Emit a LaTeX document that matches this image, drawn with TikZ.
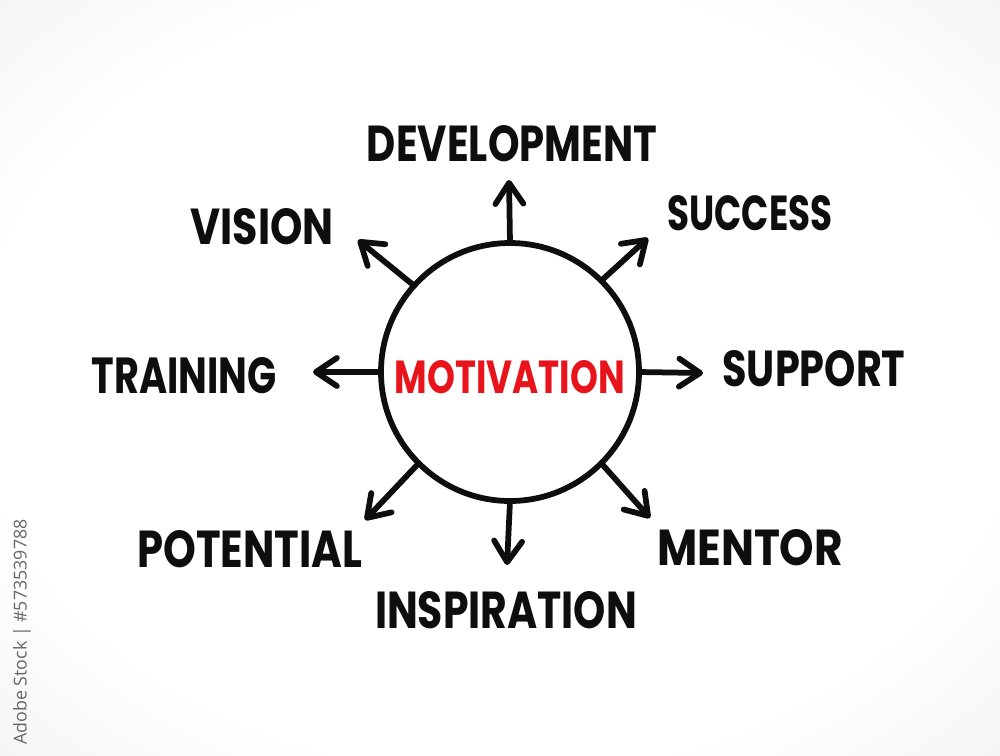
\documentclass[tikz,border=0pt]{standalone}
\usepackage{fontspec}
\setmainfont{Poppins}
\newfontfamily\wmfont{Open Sans}
\usetikzlibrary{arrows.meta}
\newdimen\pxu \pxu=0.02cm
\newcommand\lbl[3]{\resizebox{#1\pxu}{#2\pxu}{\bfseries #3}}
\definecolor{motred}{HTML}{E8141C}
\definecolor{wmgray}{HTML}{666666}
\definecolor{ink}{HTML}{0E0E0E}
\pgfdeclareradialshading{bgshade}{\pgfpoint{0bp}{0bp}}{color(0bp)=(white); color(26bp)=(white); color(50bp)=(black!10); color(71bp)=(black!18)}
\tikzset{
  word/.style={inner sep=0pt, outer sep=0pt, text=ink},
  arr/.style={line width=0.115cm, draw=ink, line cap=round,
    -{Straight Barb[length=0.42cm, width=0.56cm, round]}},
}
\begin{document}
\begin{tikzpicture}[x=0.02cm,y=-0.02cm]
\shade[shading=bgshade] (0,0) rectangle (1000,755);
\useasboundingbox (0,0) rectangle (1000,755);

% central circle
\node[draw=ink, circle, minimum size=258\pxu, line width=0.115cm, inner sep=0pt, outer sep=0pt] (c) at (510,372) {};
\node[word, text=motred] (mot) at (510,377) {\lbl{230}{33}{MOTIVATION}};

% arrow tips
\coordinate (tUp) at (509,180);
\coordinate (tUR) at (648,238);
\coordinate (tR)  at (703,373);
\coordinate (tLR) at (650,518);
\coordinate (tDn) at (507,565);
\coordinate (tLL) at (365,520);
\coordinate (tL)  at (313,372);
\coordinate (tUL) at (358,240);

\draw[arr] (c.90)   -- (tUp);
\draw[arr] (c.45)   -- (tUR);
\draw[arr] (c.0)    -- (tR);
\draw[arr] (c.-45)  -- (tLR);
\draw[arr] (c.-90)  -- (tDn);
\draw[arr] (c.-135) -- (tLL);
\draw[arr] (c.180)  -- (tL);
\draw[arr] (c.138)  -- (tUL);

% labels
\node[word] (dev) at (512,144) {\lbl{290}{36}{DEVELOPMENT}};
\node[word] (vis) at (262,227) {\lbl{143}{36}{VISION}};
\node[word] (suc) at (750,213) {\lbl{165}{35}{SUCCESS}};
\node[word] (tra) at (184,376) {\lbl{185}{36}{TRAINING}};
\node[word] (sup) at (814,369) {\lbl{183}{36}{SUPPORT}};
\node[word] (pot) at (250,549) {\lbl{225}{37}{POTENTIAL}};
\node[word] (men) at (750,548) {\lbl{186}{36}{MENTOR}};
\node[word] (ins) at (506,610) {\lbl{262}{37}{INSPIRATION}};

% watermark caption
\node[inner sep=0pt, rotate=90, text=wmgray, font=\wmfont] (wm) at (22,632) {\resizebox{225\pxu}{!}{Adobe Stock | \#573539788}};
\end{tikzpicture}
\end{document}
